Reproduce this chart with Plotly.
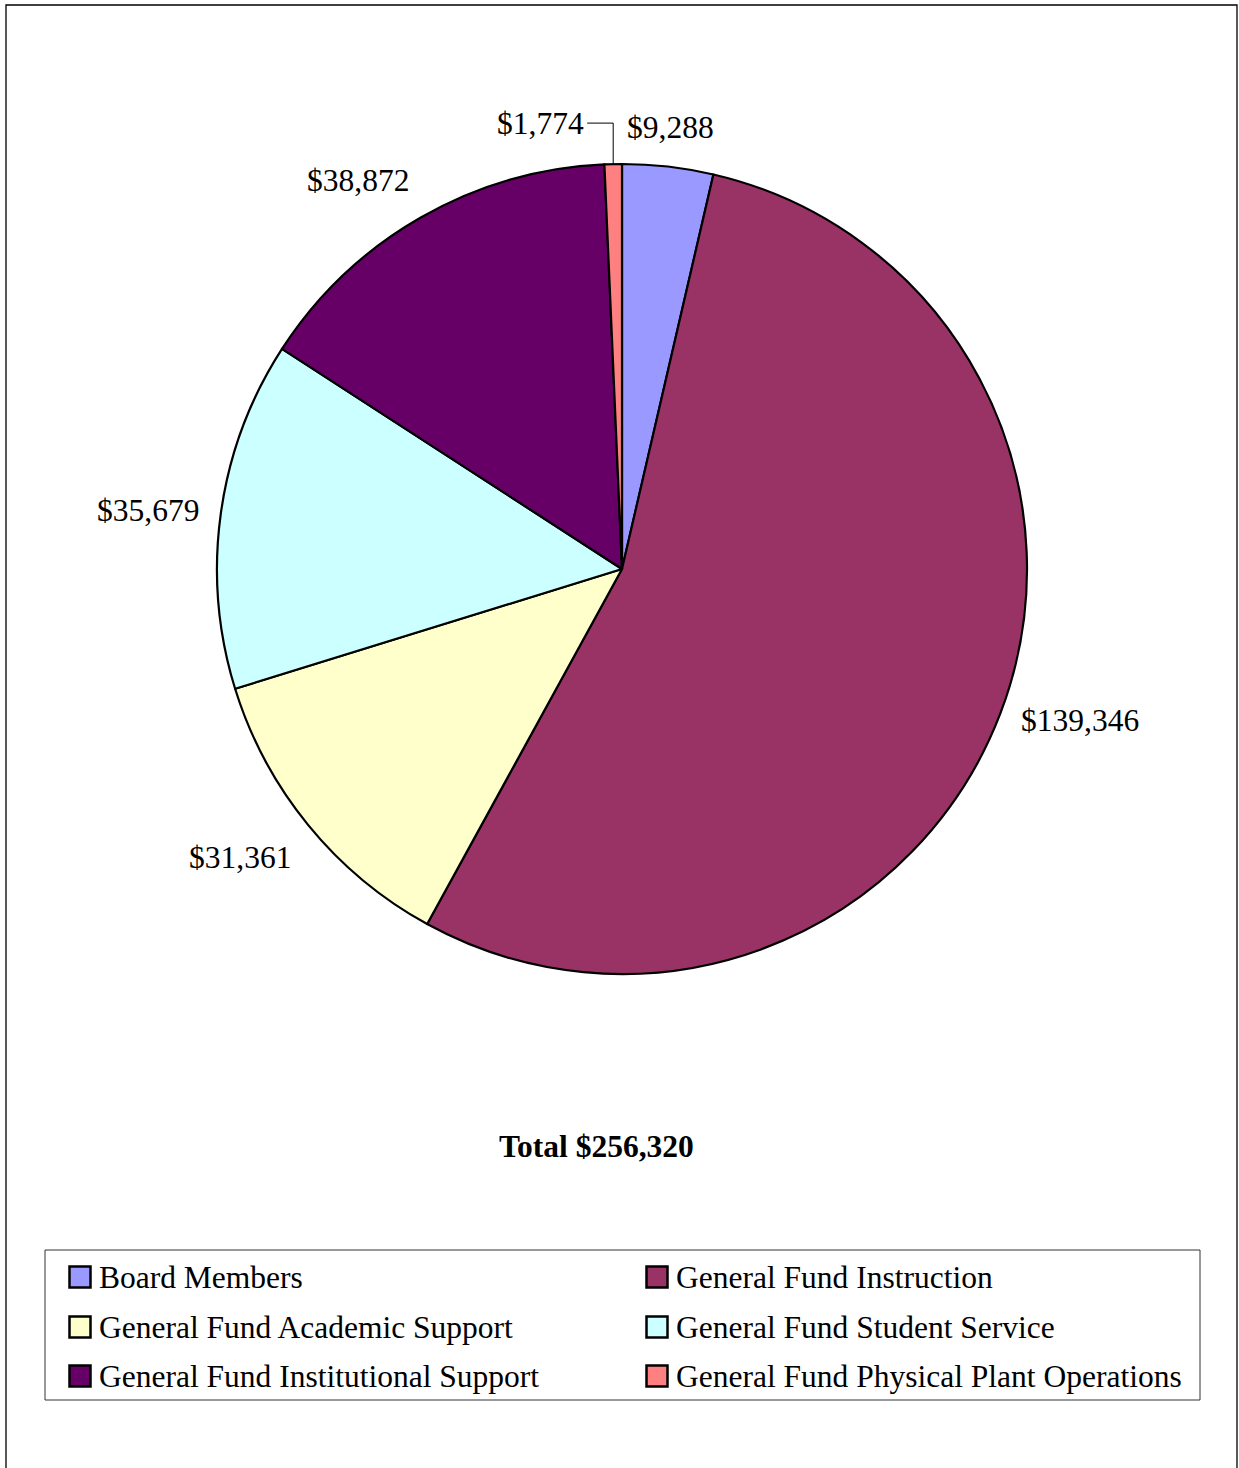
import math
import plotly.graph_objects as go

# ---- data ----
categories = [
    "Board Members",
    "General Fund Instruction",
    "General Fund Academic Support",
    "General Fund Student Service",
    "General Fund Institutional Support",
    "General Fund Physical Plant Operations",
]
values = [9288, 139346, 31361, 35679, 38872, 1774]
colors = ["#9999FF", "#993366", "#FFFFCC", "#CCFFFF", "#660066", "#FF8080"]

total = sum(values)
title_text = f"Total ${total:,}"
value_labels = [f"${v:,}" for v in values]

# ---- layout geometry (pixels) ----
W, H = 1239, 1468
CX, CY, R = 622, 569, 405
FONT = "Liberation Serif, Times New Roman, serif"
FS = 31.5


def px(x):
    return x / W


def py(y):
    return 1 - y / H


fig = go.Figure()
fig.add_trace(go.Pie(
    labels=categories,
    values=values,
    marker=dict(colors=colors, line=dict(color="black", width=2.2)),
    sort=False,
    direction="clockwise",
    rotation=0,
    textinfo="none",
    hoverinfo="label+value",
    showlegend=False,
    domain=dict(x=[px(CX - R), px(CX + R)], y=[py(CY + R), py(CY - R)]),
))

annotations = []
shapes = []

# value labels around the pie, positioned from each slice's mid-angle
cum = 0.0
GAP = 20
for lab, v in zip(value_labels, values):
    frac = v / total
    mid = (cum + frac / 2) * 2 * math.pi
    cum += frac
    s, c = math.sin(mid), math.cos(mid)
    ex, ey = CX + R * s, CY - R * c
    if frac < 0.02:
        # small slice: label to the left with elbow leader line
        ty = ey - 41
        annotations.append(dict(
            x=px(ex - 27), y=py(ty), xref="paper", yref="paper",
            text=lab, showarrow=False, xanchor="right", yanchor="middle",
            font=dict(family=FONT, size=FS, color="black")))
        shapes.append(dict(
            type="path", xref="paper", yref="paper",
            path=f"M{px(ex-26)},{py(ty)} L{px(ex)},{py(ty)} L{px(ex)},{py(ey)}",
            line=dict(color="black", width=1)))
        continue
    lx, ly = CX + (R + GAP) * s, CY - (R + GAP) * c
    xa = "left" if s > 0.3 else ("right" if s < -0.3 else "center")
    ya = "bottom" if c > 0.4 else ("top" if c < -0.4 else "middle")
    annotations.append(dict(
        x=px(lx), y=py(ly), xref="paper", yref="paper",
        text=lab, showarrow=False, xanchor=xa, yanchor=ya,
        font=dict(family=FONT, size=FS, color="black")))

# total title
annotations.append(dict(
    x=px(596), y=py(1146), xref="paper", yref="paper",
    text=f"<b>{title_text}</b>", showarrow=False,
    xanchor="center", yanchor="middle",
    font=dict(family=FONT, size=FS, color="black")))

# outer frame
shapes.append(dict(type="rect", xref="paper", yref="paper",
                   x0=px(6), x1=px(1237), y0=py(1475), y1=py(5),
                   line=dict(color="black", width=1.3), fillcolor="rgba(0,0,0,0)"))

# custom legend box
shapes.append(dict(type="rect", xref="paper", yref="paper",
                   x0=px(45), x1=px(1200), y0=py(1400), y1=py(1250),
                   line=dict(color="#333333", width=1), fillcolor="rgba(0,0,0,0)"))

col_x = [80, 657]
row_y = [1277, 1327, 1376]
SW = 21
for i, (name, col) in enumerate(zip(categories, colors)):
    r, cidx = divmod(i, 2)
    sx, sy = col_x[cidx], row_y[r]
    shapes.append(dict(type="rect", xref="paper", yref="paper",
                       x0=px(sx - SW / 2), x1=px(sx + SW / 2),
                       y0=py(sy + SW / 2), y1=py(sy - SW / 2),
                       line=dict(color="black", width=2.5), fillcolor=col))
    annotations.append(dict(
        x=px(sx + 17), y=py(sy), xref="paper", yref="paper",
        text=name, showarrow=False, xanchor="left", yanchor="middle",
        font=dict(family=FONT, size=FS, color="black")))

fig.update_layout(
    width=W, height=H,
    margin=dict(l=0, r=0, t=0, b=0),
    paper_bgcolor="white", plot_bgcolor="white",
    annotations=annotations, shapes=shapes,
    showlegend=False,
)

fig.write_html("out.html")
